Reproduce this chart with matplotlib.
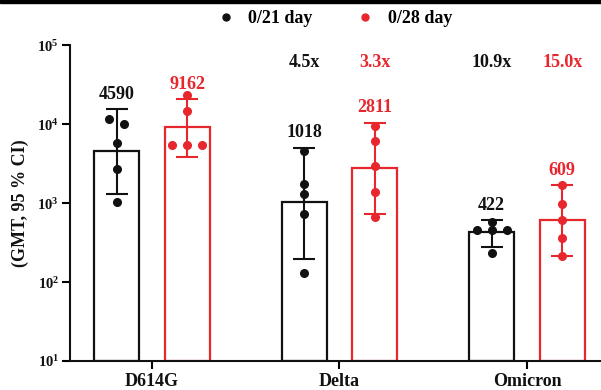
import matplotlib
matplotlib.use("Agg")
import matplotlib.pyplot as plt
from matplotlib.lines import Line2D
from matplotlib.patches import Rectangle
import matplotlib.transforms as mtransforms
import numpy as np

plt.rcParams['font.family'] = ['Liberation Serif', 'DejaVu Serif']
plt.rcParams['font.weight'] = 'bold'
plt.rcParams['mathtext.fontset'] = 'custom'
plt.rcParams['mathtext.rm'] = 'Liberation Serif:bold'
plt.rcParams['mathtext.bf'] = 'Liberation Serif:bold'

# variants and groups
variants = ['D614G', 'Delta', 'Omicron']
groups = ['0/21 day', '0/28 day']

# geometric mean titers per group
gmt_21 = [4590, 1018, 422]
gmt_28 = [9162, 2811, 609]

# 95% CI bounds
ci_low_21 = [1300, 194, 280]
ci_high_21 = [15500, 5070, 610]
ci_low_28 = [3850, 732, 213]
ci_high_28 = [20900, 10500, 1690]

# individual titers
pts_21 = [
    [11600, 10000, 5760, 2700, 1030],
    [4570, 1740, 1300, 725, 131],
    [575, 455, 455, 455, 233],
]
pts_28 = [
    [23800, 14700, 5530, 5530, 5530],
    [9440, 6150, 2940, 1400, 665],
    [1690, 970, 616, 363, 213],
]

# horizontal spread of the dots
jitter_21 = [
    [-0.04, 0.04, 0, 0, 0],
    [0, 0, 0, 0, 0],
    [0, -0.08, 0, 0.08, 0],
]
jitter_28 = [
    [0, 0, -0.08, 0, 0.08],
    [0, 0, 0, 0, 0],
    [0, 0, 0, 0, 0],
]

# fold reduction vs D614G
fold_21 = ['', '4.5x', '10.9x']
fold_28 = ['', '3.3x', '15.0x']

black = '#111111'
red = '#e8262d'
fsize = 13

fig = plt.figure(figsize=(6.01, 3.90), dpi=100)
ax = fig.add_axes([70 / 601, 29 / 390, 531 / 601, 315.7 / 390])

x = np.arange(len(variants))
off = 0.188
width = 0.24

series = [
    (gmt_21, ci_low_21, ci_high_21, pts_21, jitter_21, fold_21, black, -off),
    (gmt_28, ci_low_28, ci_high_28, pts_28, jitter_28, fold_28, red, off),
]

trans = mtransforms.blended_transform_factory(ax.transData, ax.transAxes)

for gmt, lo, hi, pts, jit, fold, col, dx in series:
    xs = x + dx
    ax.bar(xs, gmt, width=width, bottom=10, fill=False, edgecolor=col,
           linewidth=1.6, zorder=2)
    gmt_arr = np.array(gmt, dtype=float)
    yerr = [gmt_arr - np.array(lo), np.array(hi) - gmt_arr]
    ax.errorbar(xs, gmt_arr, yerr=yerr, fmt='none', ecolor=col,
                elinewidth=1.5, capsize=8, capthick=1.5, zorder=3)
    for i in range(len(variants)):
        ax.plot(xs[i] + np.array(jit[i]), pts[i], 'o', color=col,
                markersize=5.5, zorder=4)
        ax.annotate(str(gmt[i]), (xs[i], hi[i]), xytext=(0, 4.5),
                    textcoords='offset points', ha='center', va='bottom',
                    color=col, fontsize=fsize, fontweight='bold')
        if fold[i]:
            ax.text(xs[i], 0.947, fold[i], transform=trans, ha='center',
                    va='center', color=col, fontsize=fsize, fontweight='bold')

ax.set_yscale('log')
ax.set_ylim(10, 1e5)
ax.set_xlim(-0.437, 2.395)
ax.yaxis.set_minor_locator(matplotlib.ticker.NullLocator())
ax.set_xticks(x)
ax.set_xticklabels(variants, fontsize=fsize, fontweight='bold', color=black)
ax.tick_params(axis='x', length=6, width=1.5, pad=3)
ax.tick_params(axis='y', length=6, width=1.5, pad=2, labelsize=10.5,
               labelcolor=black)

for side in ['top', 'right']:
    ax.spines[side].set_visible(False)
for side in ['left', 'bottom']:
    ax.spines[side].set_linewidth(1.5)
    ax.spines[side].set_color(black)

fig.text(20 / 601, 1 - 203 / 390, '(GMT, 95 % CI)', rotation=90,
         ha='center', va='center', fontsize=fsize, fontweight='bold',
         color=black)

handles = [Line2D([], [], marker='o', linestyle='none', color=c,
                  markersize=5) for c in (black, red)]
fig.legend(handles, groups, loc='center', bbox_to_anchor=(0.549, 0.952),
           ncol=2, frameon=False, handletextpad=0.25, columnspacing=1.9,
           prop={'family': 'Liberation Serif', 'weight': 'bold', 'size': fsize})

# thin dark band along the top edge
fig.add_artist(Rectangle((0, 1 - 2.5 / 390), 1, 2.5 / 390,
                         transform=fig.transFigure, color='black'))

fig.savefig('out.png', dpi=100)
